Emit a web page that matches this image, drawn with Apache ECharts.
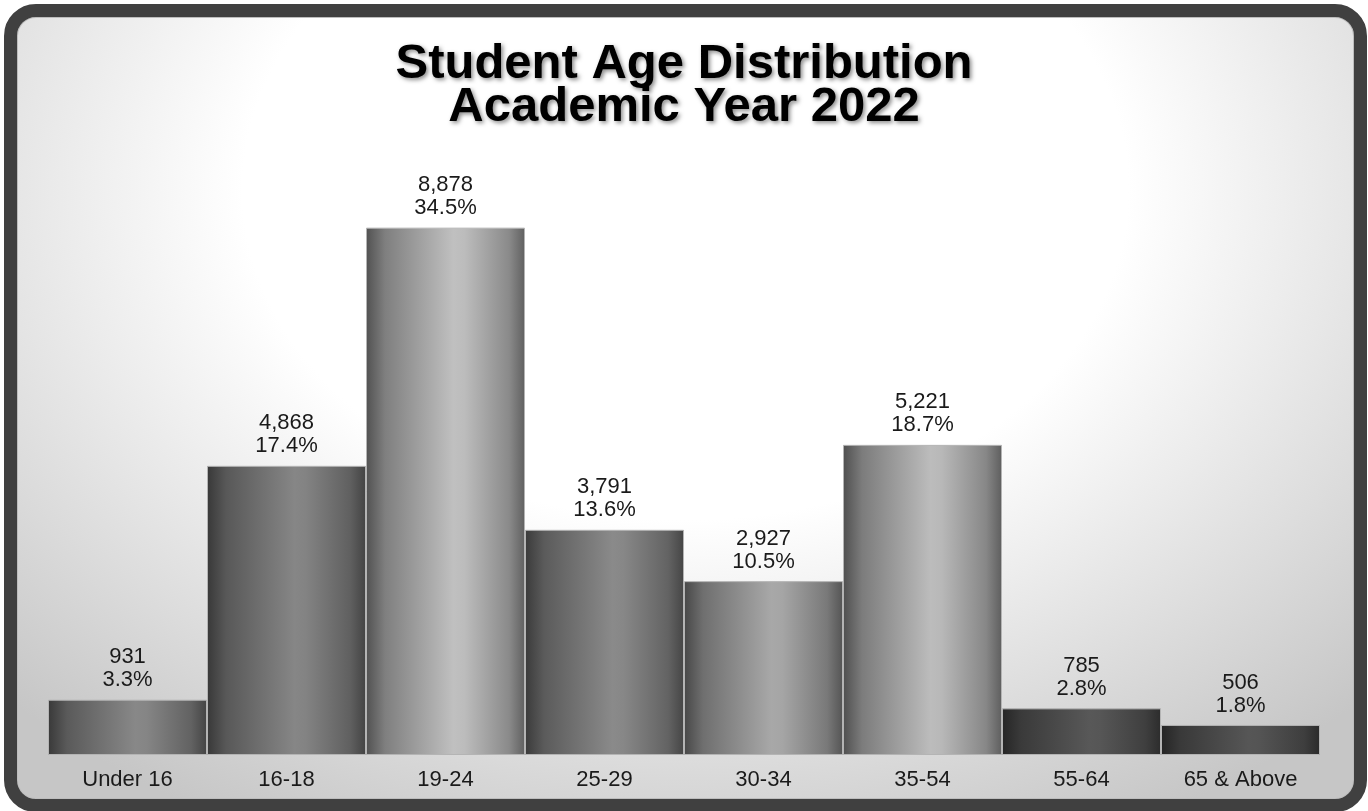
<!DOCTYPE html>
<html>
<head>
<meta charset="utf-8">
<title>Student Age Distribution</title>
<script src="https://cdn.jsdelivr.net/npm/echarts@6/dist/echarts.min.js"></script>
<style>
    html, body { margin: 0; padding: 0; width: 1368px; height: 811px; overflow: hidden; background: #fff; }
    #frame {
        position: absolute; left: 4px; top: 4px; width: 1363px; height: 808px;
        box-sizing: border-box; border: 13px solid #404040; border-radius: 32px;
        background: radial-gradient(ellipse 72% 92% at 50% 22%, #ffffff 46%, #c6c6c6 100%);
        box-shadow: inset 0 0 0 1px #bdbdbd;
    }
    #cn { position: absolute; left: 0; top: 0; width: 1368px; height: 811px; }
</style>
</head>
<body>
<div id="frame"></div>
<div id="cn"></div>
<script>
'use strict';

const categories = ['Under 16', '16-18', '19-24', '25-29', '30-34', '35-54', '55-64', '65 & Above'];
const students = [931, 4868, 8878, 3791, 2927, 5221, 785, 506];
const percents = ['3.3%', '17.4%', '34.5%', '13.6%', '10.5%', '18.7%', '2.8%', '1.8%'];

// brightest grey of each bar's "cylinder" shading
const peakShade = [0x88, 0x86, 0xc0, 0x8a, 0xa8, 0xbc, 0x58, 0x56];

const grey = (v) => {
    const n = Math.max(0, Math.min(255, Math.round(v)));
    const h = n.toString(16).padStart(2, '0');
    return '#' + h + h + h;
};

const barStyle = (peak) => ({
    type: 'linear', x: 0, y: 0, x2: 1, y2: 0,
    colorStops: [
        { offset: 0, color: grey(peak * 0.42) },
        { offset: 0.12, color: grey(peak * 0.66) },
        { offset: 0.55, color: grey(peak) },
        { offset: 0.62, color: grey(peak * 0.98) },
        { offset: 0.9, color: grey(peak * 0.72) },
        { offset: 1, color: grey(peak * 0.5) }
    ]
});

const font = 'Liberation Sans, Arial, sans-serif';
const chart = echarts.init(document.getElementById('cn'));

const option = {
    backgroundColor: 'transparent',
    animation: false,
    title: {
        text: 'Student Age Distribution\nAcademic Year 2022',
        left: 'center',
        top: 38,
        textStyle: {
            fontFamily: font,
            fontWeight: 'bold',
            fontSize: 49,
            lineHeight: 43,
            color: '#000',
            textShadowColor: 'rgba(0,0,0,0.45)',
            textShadowBlur: 4,
            textShadowOffsetX: 2,
            textShadowOffsetY: 2
        }
    },
    grid: { left: 48, right: 48, top: 161, bottom: 56 },
    xAxis: {
        type: 'category',
        data: categories,
        axisLine: { show: false },
        axisTick: { show: false },
        axisLabel: {
            margin: 14,
            fontFamily: font,
            fontSize: 22,
            color: '#1a1a1a'
        }
    },
    yAxis: {
        type: 'value',
        min: 0,
        max: 10000,
        show: false,
        splitLine: { show: false }
    },
    series: [{
        type: 'bar',
        barWidth: '100%',
        barGap: 0,
        data: students.map((v, i) => ({
            value: v,
            itemStyle: { color: barStyle(peakShade[i]) }
        })),
        itemStyle: {
            borderColor: '#b4b4b4',
            borderWidth: 1
        },
        label: {
            show: true,
            position: 'top',
            distance: 8,
            fontFamily: font,
            fontSize: 22,
            lineHeight: 23,
            color: '#1a1a1a',
            formatter: (p) => p.value.toLocaleString('en-US') + '\n' + percents[p.dataIndex]
        }
    }]
};

chart.setOption(option);
</script>
</body>
</html>
